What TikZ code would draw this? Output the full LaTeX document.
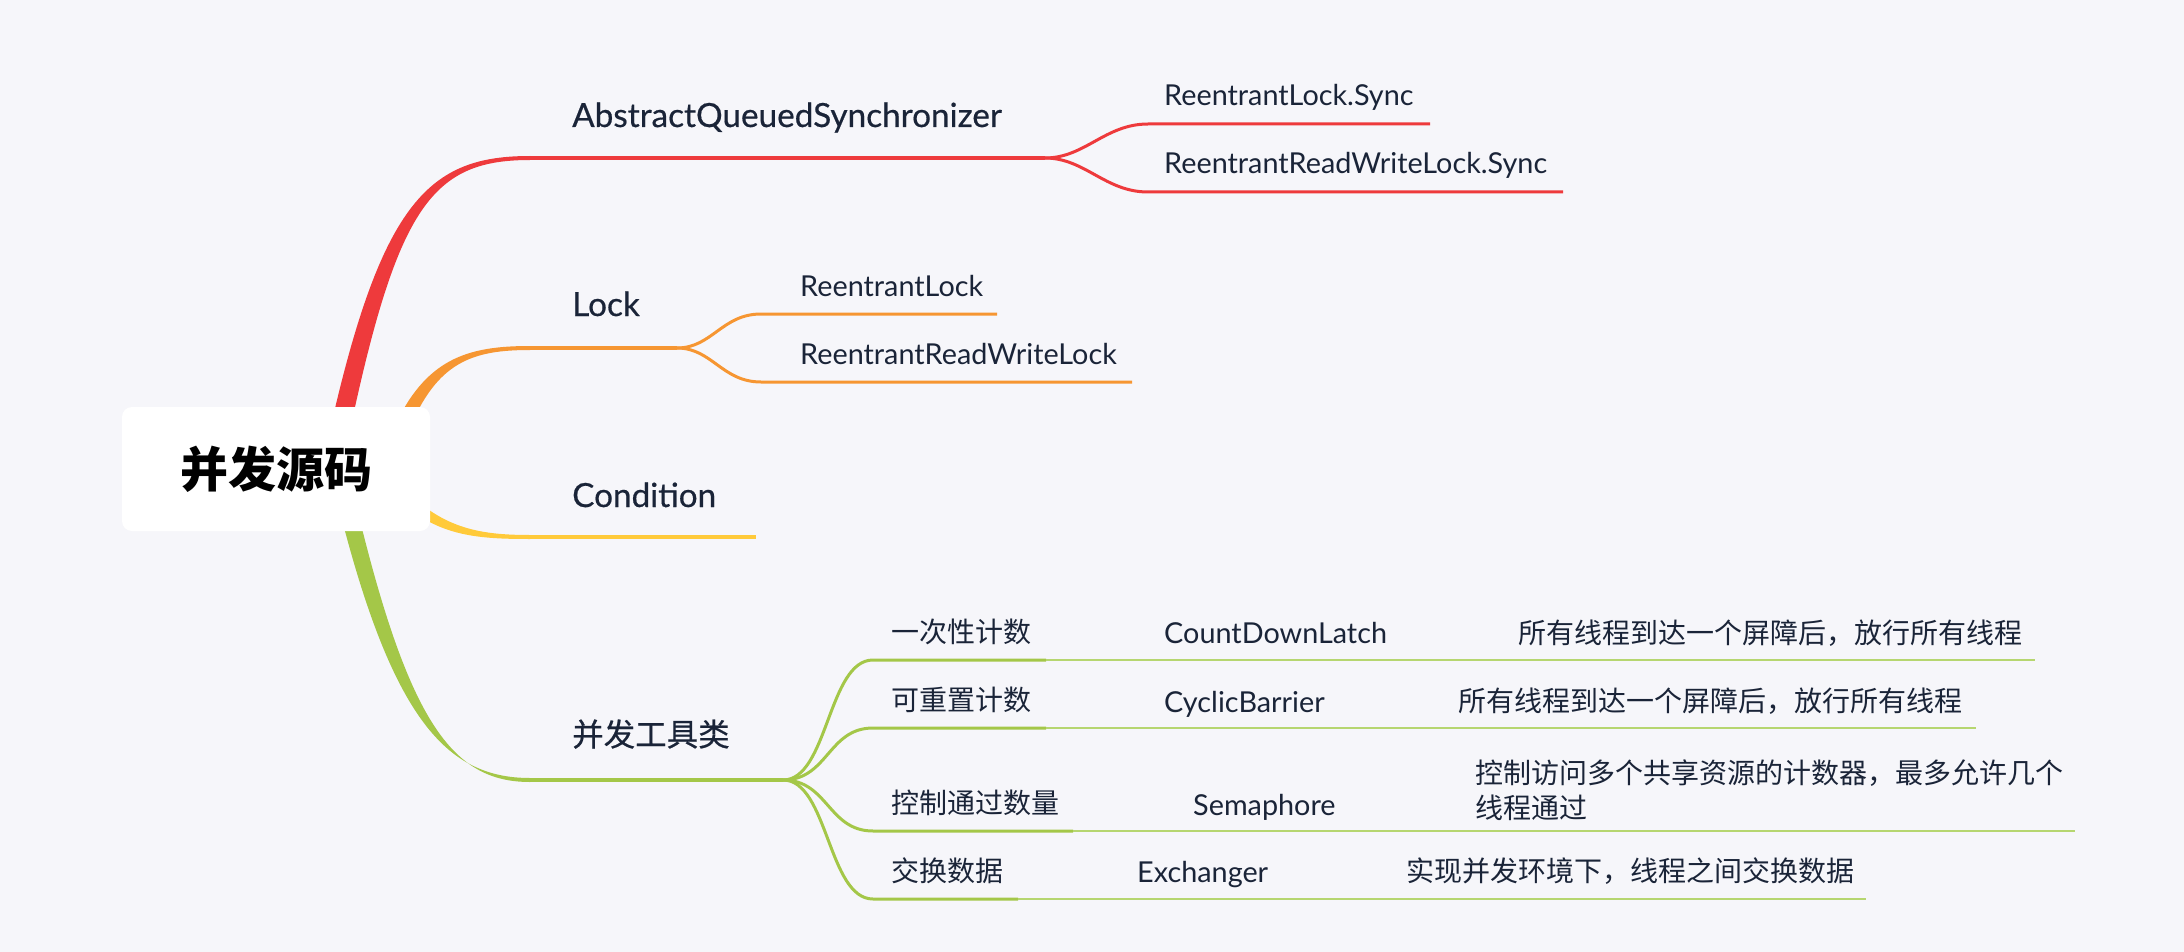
\documentclass[tikz,border=0pt]{standalone}
\usepackage{fontspec}
\setmainfont{Lato}
\newfontfamily\topicfont{Lato}[FakeBold=0.5]
\newfontfamily\cjk{Noto Sans CJK SC}
\newfontfamily\cjkmed{Noto Sans CJK SC}[FakeBold=0.5]

\definecolor{bg}{RGB}{246,246,250}
\definecolor{ink}{RGB}{26,36,56}
\definecolor{aqsred}{RGB}{238,58,60}
\definecolor{lockorange}{RGB}{246,150,50}
\definecolor{condyellow}{RGB}{255,202,58}
\definecolor{toolgreen}{RGB}{164,199,72}
\definecolor{thingreen}{RGB}{182,214,112}

\tikzset{
  rootbox/.style={fill=white, rounded corners=10pt, inner sep=0pt,
    minimum width=308pt, minimum height=124pt, text=black,
    font=\cjk\bfseries\fontsize{48}{50}\selectfont},
  topic/.style={anchor=base west, inner sep=0pt, text=ink,
    font=\topicfont\fontsize{33.3}{38}\selectfont},
  cjktopic/.style={topic, font=\cjkmed\fontsize{31.5}{38}\selectfont},
  subtopic/.style={anchor=base west, inner sep=0pt, text=ink,
    font=\fontsize{28.8}{34}\selectfont},
  cjksub/.style={subtopic, font=\cjk\fontsize{28}{35}\selectfont},
  underline/.style={line width=4pt},
  twig/.style={line width=3pt},
  hair/.style={line width=2pt, thingreen},
}

\begin{document}
\begin{tikzpicture}[x=1pt, y=-1pt]
        \fill[bg] (0,0) rectangle (2184,952);
        \useasboundingbox (0,0) rectangle (2184,952);

        % main branches, tapered
        \fill[aqsred] (330,430) .. controls (382,200) and (430,156) .. (530,156)
            -- (530,160) .. controls (433,160) and (398,205) .. (350,430) -- cycle;
        \fill[lockorange] (393,430) .. controls (425,358) and (468,346) .. (530,346)
            -- (530,350) .. controls (472,350) and (437,362) .. (409,430) -- cycle;
        \fill[condyellow] (400,484) .. controls (440,528) and (478,535) .. (530,535)
            -- (530,539) .. controls (476,539) and (434,536) .. (396,496) -- cycle;
        \fill[toolgreen] (337,500) .. controls (392,722) and (448,778) .. (530,778)
            -- (530,782) .. controls (452,782) and (408,722) .. (355,500) -- cycle;

        % centre
        \node[rootbox] (root) at (276,469) {并发源码};

        % AbstractQueuedSynchronizer
        \coordinate (aqsS) at (530,158);
        \coordinate (aqsE) at (1045,158);
        \coordinate (rlsS) at (1148,124);
        \coordinate (rlsE) at (1430,124);
        \coordinate (rrwlsS) at (1148,192);
        \coordinate (rrwlsE) at (1563,192);
        \node[topic] (aqs) at (572,127) {AbstractQueuedSynchronizer};
        \node[subtopic] (rls) at (1164,106) {ReentrantLock.Sync};
        \node[subtopic] (rrwls) at (1164,174) {ReentrantReadWriteLock.Sync};
        \draw[aqsred, underline] (aqsS) -- (aqsE);
        \foreach \n in {rls,rrwls}
            \draw[aqsred, twig] (aqsE) .. controls +(40,0) and +(-43,0) .. (\n S) -- (\n E);

        % Lock
        \coordinate (lockS) at (530,348);
        \coordinate (lockE) at (677,348);
        \coordinate (rlS) at (761,314);
        \coordinate (rlE) at (997,314);
        \coordinate (rrwlS) at (761,382);
        \coordinate (rrwlE) at (1132,382);
        \node[topic] (lock) at (572,316) {Lock};
        \node[subtopic] (rl) at (800,296) {ReentrantLock};
        \node[subtopic] (rrwl) at (800,364) {ReentrantReadWriteLock};
        \draw[lockorange, underline] (lockS) -- (lockE);
        \foreach \n in {rl,rrwl}
            \draw[lockorange, twig] (lockE) .. controls +(35,0) and +(-39,0) .. (\n S) -- (\n E);

        % Condition
        \coordinate (condS) at (530,537);
        \coordinate (condE) at (756,537);
        \node[topic] (cond) at (572,507) {Condition};
        \draw[condyellow, underline] (condS) -- (condE);

        % tools
        \coordinate (toolS) at (530,780);
        \coordinate (toolE) at (783,780);
        \node[cjktopic] (tool) at (572,746) {并发工具类};
        \draw[toolgreen, underline] (toolS) -- (toolE);

        \coordinate (onceS) at (873,660);   \coordinate (onceE) at (1046,660);
        \coordinate (resetS) at (873,728);  \coordinate (resetE) at (1046,728);
        \coordinate (permitS) at (873,831); \coordinate (permitE) at (1073,831);
        \coordinate (swapS) at (873,899);   \coordinate (swapE) at (1018,899);
        \node[cjksub] (once) at (891,642) {一次性计数};
        \node[cjksub] (reset) at (891,710) {可重置计数};
        \node[cjksub] (permit) at (891,813) {控制通过数量};
        \node[cjksub] (swap) at (891,881) {交换数据};
        \foreach \n in {once,reset,permit,swap}
            \draw[toolgreen, twig] (toolE) .. controls +(45,0) and +(-45,0) .. (\n S)
                -- (\n E);

        \node[subtopic] (cdl) at (1164,643) {CountDownLatch};
        \node[subtopic] (cb) at (1164,712) {CyclicBarrier};
        \node[subtopic] (sem) at (1193,815) {Semaphore};
        \node[subtopic] (exc) at (1137,882) {Exchanger};
        \node[cjksub] (onceTxt) at (1518,643) {所有线程到达一个屏障后，放行所有线程};
        \node[cjksub] (resetTxt) at (1458,711) {所有线程到达一个屏障后，放行所有线程};
        \node[cjksub, align=left] (permitTxt) at (1475,818)
            {控制访问多个共享资源的计数器，最多允许几个\\线程通过};
        \node[cjksub] (swapTxt) at (1406,881) {实现并发环境下，线程之间交换数据};

        \coordinate (onceEnd) at (2035,660);
        \coordinate (resetEnd) at (1976,728);
        \coordinate (permitEnd) at (2075,831);
        \coordinate (swapEnd) at (1866,899);
        \foreach \n in {once,reset,permit,swap}
            \draw[hair] (\n E) -- (\n End);
    \end{tikzpicture}
\end{document}
